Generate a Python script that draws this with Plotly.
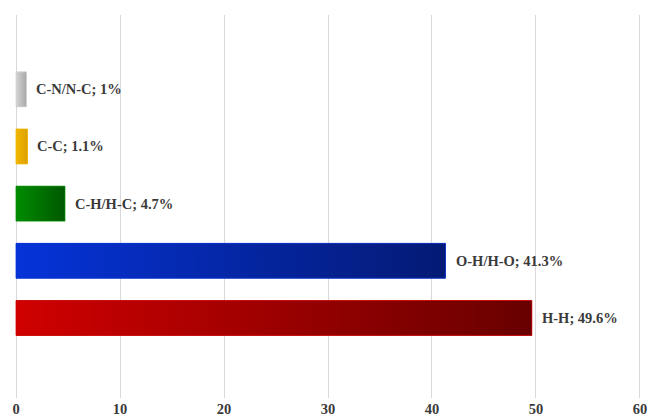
import plotly.graph_objects as go

categories = ["H-H", "O-H/H-O", "C-H/H-C", "C-C", "C-N/N-C"]
values = [49.6, 41.3, 4.7, 1.1, 1.0]
value_labels = ["49.6%", "41.3%", "4.7%", "1.1%", "1%"]
colors_start = ["#d00000", "#0533d8", "#008c00", "#f2b600", "#d4d4d4"]
colors_end = ["#680000", "#041a74", "#005800", "#dca000", "#a8a8a8"]
x_ticks = [0, 10, 20, 30, 40, 50, 60]

half = 0.305
fig = go.Figure()

for i, (cat, v) in enumerate(zip(categories, values)):
    fig.add_trace(go.Bar(
        x=[v], y=[i], orientation="h", width=2 * half,
        marker=dict(color=colors_end[i], line=dict(width=0)),
        showlegend=False, hoverinfo="skip"
    ))
    fig.add_trace(go.Scatter(
        x=[0, v, v, 0, 0], y=[i - half, i - half, i + half, i + half, i - half],
        mode="lines", fill="toself",
        line=dict(width=0.8, color=colors_start[i]),
        fillgradient=dict(type="horizontal",
                          colorscale=[[0, colors_start[i]], [1, colors_end[i]]]),
        showlegend=False, hoverinfo="skip"
    ))
    fig.add_annotation(
        x=v, y=i, text=f"{cat}; {value_labels[i]}", showarrow=False,
        xanchor="left", yanchor="middle", xshift=8,
        font=dict(family="Liberation Serif", size=14.5, color="#3a3a3a", weight="bold")
    )

fig.update_layout(
    width=648, height=419,
    margin=dict(l=15, r=7, t=15, b=21),
    paper_bgcolor="white", plot_bgcolor="white",
    xaxis=dict(range=[-0.1, 60.1], tickvals=x_ticks, showgrid=True, gridcolor="#d9d9d9",
               gridwidth=1, zeroline=False, showline=False, automargin=False,
               tickfont=dict(family="Liberation Serif", size=14.5, color="#3a3a3a", weight="bold"),
               ticks="", fixedrange=True),
    yaxis=dict(range=[-1.4, 5.3], showgrid=False, zeroline=False, showticklabels=False,
               showline=False, ticks="", automargin=False),
    barmode="overlay",
)

fig.write_html("out.html")
